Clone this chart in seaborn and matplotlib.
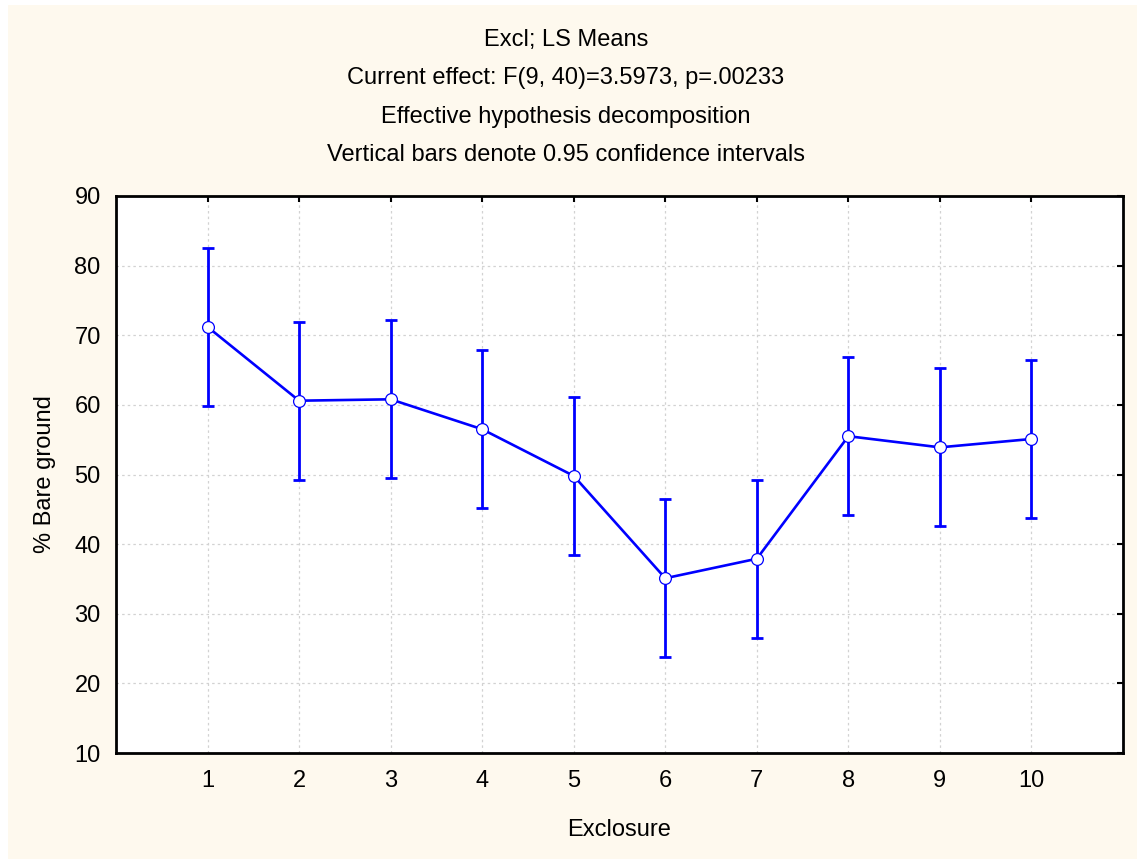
import matplotlib
matplotlib.use("Agg")
import matplotlib.pyplot as plt
import seaborn as sns
import pandas as pd
from matplotlib.patches import Rectangle

# LS means of % bare ground per exclosure with 95% CI half-widths
exclosure = [1, 2, 3, 4, 5, 6, 7, 8, 9, 10]
ls_means = [71.2, 60.6, 60.8, 56.5, 49.8, 35.1, 37.9, 55.5, 53.9, 55.1]
ci_half = [11.35] * 10

title_lines = [
    "Excl; LS Means",
    "Current effect: F(9, 40)=3.5973, p=.00233",
    "Effective hypothesis decomposition",
    "Vertical bars denote 0.95 confidence intervals",
]

df = pd.DataFrame({"Exclosure": exclosure, "Bare": ls_means, "ci": ci_half})

sns.set_style("white")
plt.rcParams["font.family"] = ["Liberation Sans", "DejaVu Sans"]
plt.rcParams["text.color"] = "black"
plt.rcParams["axes.labelcolor"] = "black"

FS = 17
W, H = 1137, 859
fig = plt.figure(figsize=(W / 100, H / 100), dpi=100)
fig.patch.set_facecolor("white")
cream = "#fef9ee"
fig.patches.append(Rectangle((8 / W, 0), 1, 1 - 5 / H, transform=fig.transFigure,
                             facecolor=cream, edgecolor="none", zorder=-10))

ax = fig.add_axes([116 / W, 1 - 753 / H, (1123 - 116) / W, (753 - 196) / H])
ax.set_facecolor("white")

blue = "#0000ff"
ax.errorbar(df["Exclosure"], df["Bare"], yerr=df["ci"], fmt="none",
            ecolor=blue, elinewidth=2.0, capsize=4.5, capthick=2.0, zorder=3)
sns.lineplot(data=df, x="Exclosure", y="Bare", ax=ax, color=blue, linewidth=1.9,
             marker="o", markersize=8.5, markerfacecolor="white",
             markeredgecolor=blue, markeredgewidth=0.9, zorder=4)

ax.set_xlim(0, 11)
ax.set_ylim(10, 90)
ax.set_xticks(exclosure)
ax.set_yticks(range(10, 91, 10))
ax.grid(True, color="#d2d2d2", linestyle=(0, (2, 2.5)), linewidth=0.9)
ax.set_axisbelow(True)

for s in ax.spines.values():
    s.set_visible(True)
    s.set_color("black")
    s.set_linewidth(2.0)

ax.tick_params(axis="both", which="both", direction="in", length=4, width=1.5,
               top=True, right=True, labelsize=FS, colors="black")
ax.tick_params(axis="y", pad=11)
ax.tick_params(axis="x", pad=12)

ax.set_xlabel("Exclosure", fontsize=FS, labelpad=20)
ax.set_ylabel("% Bare ground", fontsize=FS, labelpad=13)

for i, line in enumerate(title_lines):
    fig.text(566 / W, 1 - (40 + 38.3 * i) / H, line, ha="center", va="center", fontsize=FS)

fig.savefig("out.png", dpi=100, facecolor=fig.get_facecolor())
